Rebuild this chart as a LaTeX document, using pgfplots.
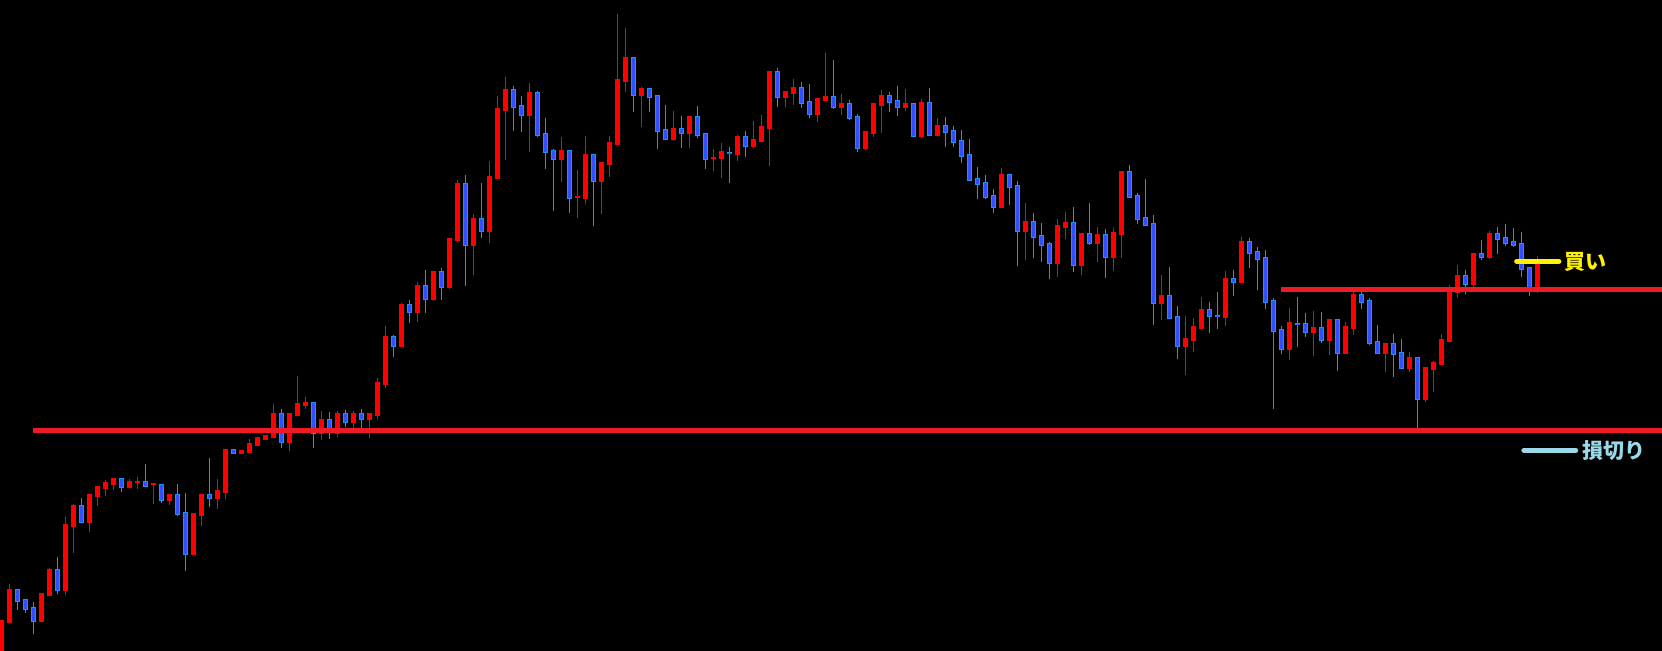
\documentclass[border=0pt]{standalone}
\usepackage{pgfplots}
\usepackage{pgfplotstable}
\pgfplotsset{compat=1.18}
\usepackage{fontspec}
\newfontfamily\cjk{Noto Sans CJK JP}
\definecolor{upred}{HTML}{FF0000}
\definecolor{dnfill}{HTML}{3050FF}
\definecolor{dnedge}{HTML}{1E90FF}
\definecolor{linered}{HTML}{ED1C24}
\definecolor{ltblue}{HTML}{99D9EA}
\definecolor{buyyellow}{HTML}{FFF200}
% candle index i, pixel-scale prices (y grows downward): o h l c
\pgfplotstableread{
i o h l c
0 660 621 665 621
1 622 584 622 590
5 621 594 621 594
6 595 568 596 570
8 590 517 595 525
9 526 504 553 506
11 522 495 532 495
12 496 487 506 487
13 488 480 496 483
14 484 478 490 479
16 487 479 488 482
17 482.5 477 489 482
19 484.5 483 504 484
21 500 494 505 495
24 554 514 554 514
25 515 495 526 495
27 498 479 509 491
28 492 449 499 450
30 453 451 454 451
31 452 439 452 444
32 445 437 445 438
33 439 436 439 436
34 437 404 438 414
36 442 414 451 414
37 415 376 415 404
38 405 397 409 403
40 433 411 440 420
42 433 411 437 414
44 422 411 430 414
46 419 414 438 414
47 415 378 419 383
48 384 326 388 337
50 346 303 347 305
52 312 282 322 286
54 299 272 301 272
56 287 239 289 239
57 240 180 242 184
59 245 214 275 219
61 231 161 243 177
62 178 96 179 109
63 110 77 160 90
66 115 83 152 93
70 159 137 182 151
72 197.5 170 218 197
73 198 136 204 155
75 181 163 214 163
76 164 136 177 143
77 144 14 145 80
78 81 28 92 58
80 95 87 127 89
84 139 111 141 129
86 133 117 148 117
89 158 149 171 157.5
90 158 143 178 152
92 154 135 161 137
94 146 121 148 140
95 141 115 142 127
96 128 71 166 72
98 97 91 107 92
99 93 79 105 88
102 114 99 122 99
103 100 53 100 97
105 107 94 115 104
108 148 132 150 132
109 133 104 137 104
110 105 90 133 96
113 107 89 111 104
115 136 99 138 103
117 135 118 135 126
125 207 168 207 175
128 231 203 260 222
132 263 219 277 226
133 227 212 239 223
135 265 234 275 234
137 243 227 262 235
139 257 228 271 233
140 234 172 258 172
145 303 275 320 296
148 346 316 375 339
149 340 318 352 327
150 328 297 328 310
153 317 271 326 279
155 282 237 282 242
161 349 308 360 323
164 332 311 356 328
166 340 319 355 320
168 353 322 353 327
169 328 290 335 295
173 353 344 372 344
176 368 352 372 358
178 399 368 402 368
179 369 361 392 363
180 364 334 364 340
181 341 285 342 291
182 292 265 298 276
184 284 254 288 254
186 257 231 259 234
192 289 256 293 260
}\upcandles
\pgfplotstableread{
i o h l c
2 590 590 610 601
3 600 600 613 609
4 608 602 634 621
7 570 557 594 590
10 506 498 522 522
15 479 478 492 487
18 482 464 486 486
20 485 485 503 500
22 495 484 516 514
23 513 493 571 554
26 495 458 507 498
29 450 449 454 453
35 414 409 448 442
39 403 403 448 433
41 420 412 439 429
43 414 410 427 422
45 414 409 428 419
49 337 335 357 346
51 305 300 323 312
53 286 270 313 299
55 272 268 300 287
58 184 175 286 245
60 219 183 238 231
64 90 86 131 107
65 106 96 132 115
67 93 91 137 135
68 134 118 169 152
69 151 149 211 159
71 151 151 213 198
74 155 155 226 181
79 58 57 112 95
81 89 88 112 97
82 96 96 149 131
83 130 105 139 139
85 129 116 148 133
87 117 106 138 135
88 134 134 169 159
91 152.5 147 183 153
93 137 131 157 146
97 72 68 107 97
100 88 82 108 103
101 102 84 118 114
104 97 60 109 107
106 104 100 120 118
107 117 114 152 148
111 96 92 112 102
112 101 86 116 107
114 104 104 136 136
116 103 88 135 135
118 126 117 147 132
119 131 126 147 142
120 141 130 163 156
121 155 139 180 180
122 179 167 199 184
123 183 175 199 197
124 196 189 213 207
126 175 175 205 187
127 186 181 266 231
129 222 213 258 237
130 236 223 262 245
131 244 242 279 263
134 223 207 272 265
136 234 203 245 243
138 235 229 278 257
141 172 165 197 197
142 196 193 224 219
143 218 179 225 225
144 224 215 325 303
146 296 267 319 318
147 317 306 359 346
151 310 302 333 316
152 315.5 292 329 316
154 279 270 296 282
156 242 238 268 253
157 252 247 290 259
158 258 250 309 302
159 301 298 409 331
160 330 326 354 349
162 323.5 297 347 324
163 324 313 337 332
165 328 312 343 340
167 320 320 371 353
170 295 292 309 302
171 301 298 345 343
172 342 325 353 353
174 344 334 377 354
175 353 339 368 368
177 358 358 428 399
183 276 270 294 284
185 254 240 260 257
187 234 227 254 239
188 238 224 246 243
189 242 228 247 245
190 244 232 277 269
191 268 268 296 289
}\dncandles
\begin{document}
\begin{tikzpicture}
\begin{axis}[
  width=831pt, height=325.5pt, scale only axis,
  xmin=-0.1667, xmax=207.58, ymin=0, ymax=651, y dir=reverse,
  axis line style={draw=none}, xtick=\empty, ytick=\empty,
  tick style={draw=none},
  axis background/.style={fill=black},
  clip=true,
]
% wicks: segment from high to low
\addplot[forget plot, -, mark=none, upred, line width=0.5pt,
  quiver={u=0, v=\thisrow{l}-\thisrow{h}}]
  table[x=i, y=h]{\upcandles};
\addplot[forget plot, -, mark=none, dnedge, line width=0.5pt,
  quiver={u=0, v=\thisrow{l}-\thisrow{h}}]
  table[x=i, y=h]{\dncandles};
% bodies: segment from open to close
\addplot[forget plot, -, mark=none, upred, line width=2.4pt, line cap=butt,
  quiver={u=0, v=\thisrow{c}-\thisrow{o}-1.2}]
  table[x=i, y expr=\thisrow{o}+0.6]{\upcandles};
\addplot[forget plot, -, mark=none, dnedge, line width=2.4pt, line cap=butt,
  quiver={u=0, v=\thisrow{c}-\thisrow{o}+1.2}]
  table[x=i, y expr=\thisrow{o}-0.6]{\dncandles};
\addplot[forget plot, -, mark=none, dnfill, line width=1.4pt, line cap=butt,
  quiver={u=0, v=\thisrow{c}-\thisrow{o}-0.8}]
  table[x=i, y expr=\thisrow{o}+0.4]{\dncandles};
% horizontal levels
\addplot[linered, line width=2.3pt, forget plot] coordinates {(3.96,430.5) (208,430.5)};
\addplot[linered, line width=2.3pt, forget plot] coordinates {(160.0,289.3) (208,289.3)};
\addplot[buyyellow, line width=2.4pt, line cap=round, forget plot] coordinates {(189.4,261.3) (194.7,261.3)};
\addplot[ltblue, line width=2.4pt, line cap=round, forget plot] coordinates {(190.3,450.3) (196.8,450.3)};
\node[anchor=west, inner sep=0pt, text=buyyellow, font=\cjk\bfseries\fontsize{10.5}{12}\selectfont] at (axis cs:195.4,261.5) {買い};
\node[anchor=west, inner sep=0pt, text=ltblue, font=\cjk\bfseries\fontsize{10.5}{12}\selectfont] at (axis cs:197.6,450.3) {損切り};
\end{axis}
\pgfresetboundingbox
\path (current axis.south west) rectangle (current axis.north east);
\end{tikzpicture}
\end{document}
